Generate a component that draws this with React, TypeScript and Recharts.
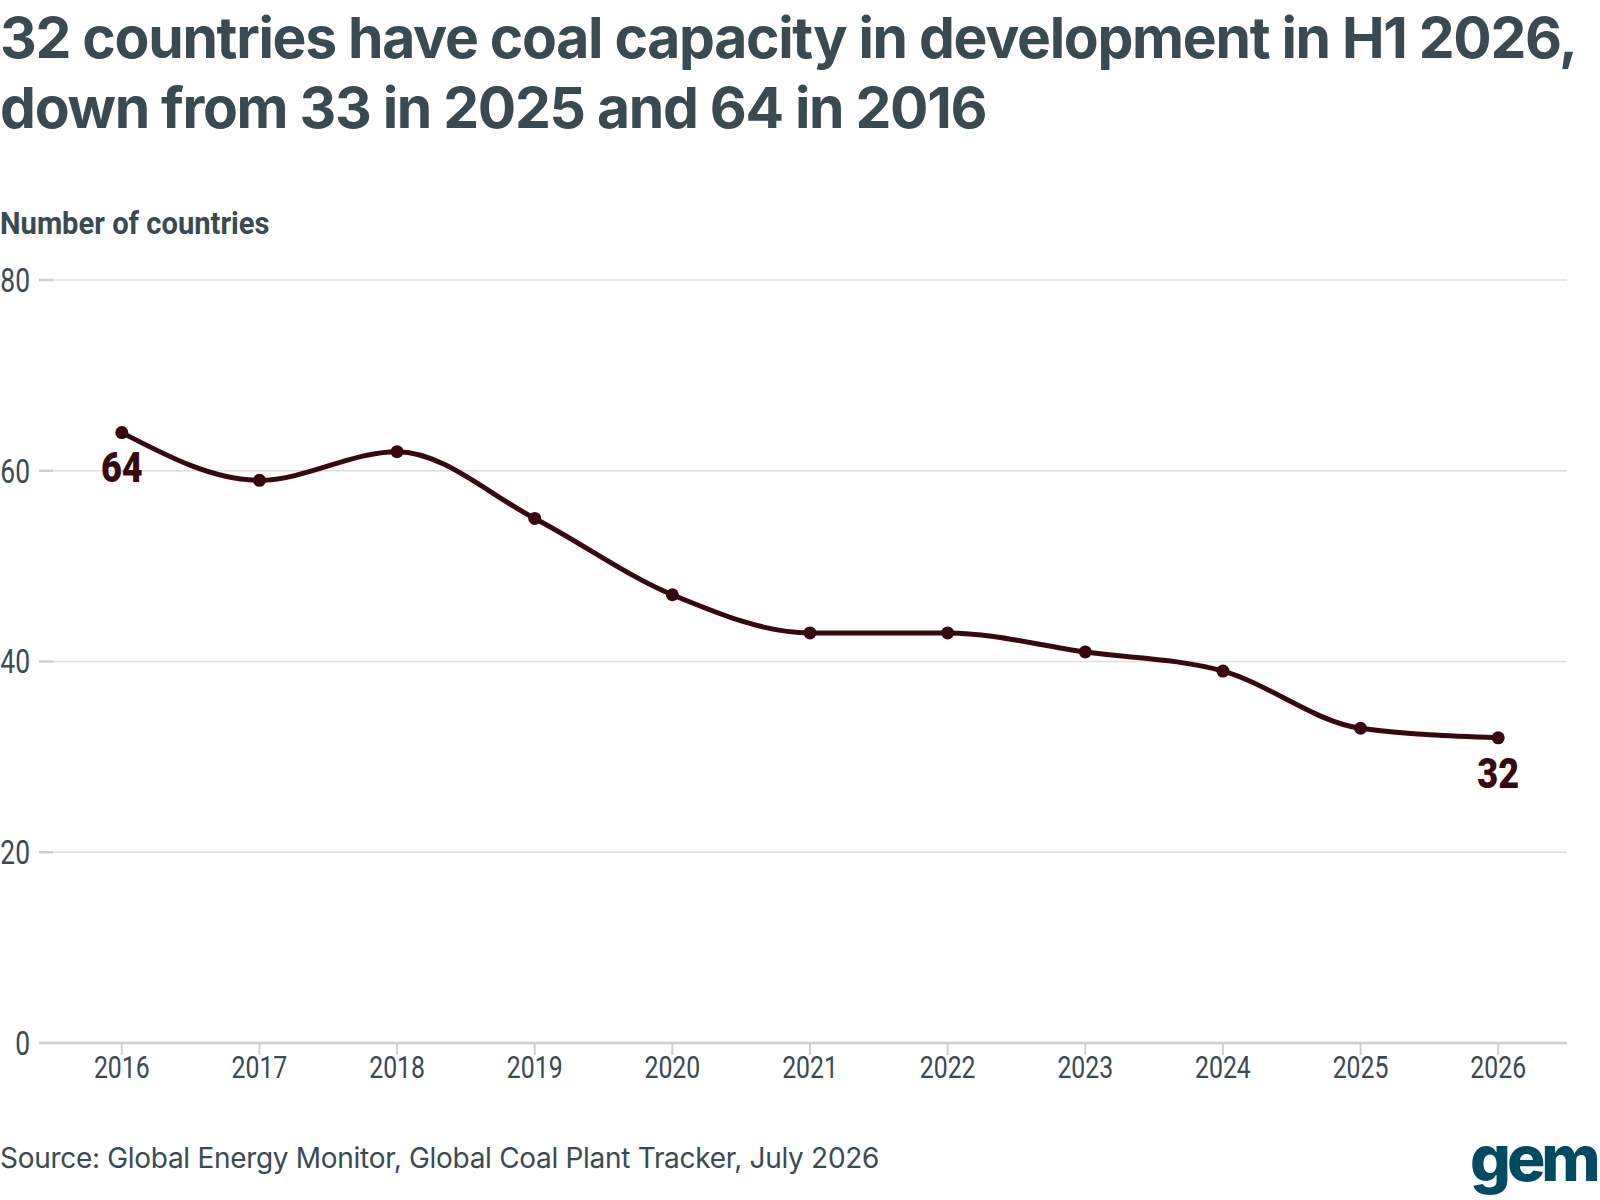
import { LineChart, Line, XAxis, YAxis, CartesianGrid, LabelList } from "recharts";

const years = ["2016", "2017", "2018", "2019", "2020", "2021", "2022", "2023", "2024", "2025", "2026"];
const countries = [64, 59, 62, 55, 47, 43, 43, 41, 39, 33, 32];
const yTicks = [0, 20, 40, 60, 80];

const data = years.map((year, i) => ({ year, countries: countries[i] }));

const INK = "#3a4a52";
const LINE = "#380811";
const NARROW = "Roboto, sans-serif";
const SQUEEZE = 0.8;

function XTick(props: any) {
  const { x, y, payload } = props;
  return (
    <text transform={`translate(${x},${y}) scale(${SQUEEZE},1)`} textAnchor="middle" dy="0.71em" fill={INK} fontFamily={NARROW} fontSize={31}>
      {payload.value}
    </text>
  );
}

function YTick(props: any) {
  const { x, y, payload } = props;
  return (
    <text transform={`translate(${x},${y}) scale(${SQUEEZE},1)`} textAnchor="end" dy="0.36em" fill={INK} fontFamily={NARROW} fontSize={33}>
      {payload.value}
    </text>
  );
}

// only the first and last points carry a value label
function EndLabel(props: any) {
  const { x, y, value, index } = props;
  if (index !== 0 && index !== years.length - 1) return null;
  return (
    <text transform={`translate(${x},${y + 20}) scale(0.86,1)`} dy="0.71em" textAnchor="middle" fill={LINE} fontFamily={NARROW} fontWeight={900} fontSize={42}>
      {value}
    </text>
  );
}

export default function App() {
  return (
    <div style={{ position: "absolute", left: 0, top: 0, width: 1600, height: 1200, background: "#fff", overflow: "hidden", color: INK }}>
      <div style={{ position: "absolute", left: 0, top: 3, width: 1600, fontFamily: "Inter, sans-serif", fontWeight: 700, fontSize: 57, lineHeight: "70px", letterSpacing: -1.3 }}>
        32 countries have coal capacity in development in H1 2026,
        <br />
        down from 33 in 2025 and 64 in 2016
      </div>
      <div style={{ position: "absolute", left: 0, top: 205, fontFamily: NARROW, fontWeight: 700, fontSize: 31, transform: "scaleX(0.94)", transformOrigin: "left", whiteSpace: "nowrap" }}>
        Number of countries
      </div>

      <div style={{ position: "absolute", left: 0, top: 0 }}>
        <LineChart width={1600} height={1200} data={data} margin={{ top: 280, right: 33, bottom: 127, left: 0 }}>
          <CartesianGrid vertical={false} stroke="#dedede" strokeWidth={1.5} />
          <XAxis
            dataKey="year"
            height={30}
            padding={{ left: 68.8, right: 68.8 }}
            axisLine={{ stroke: "#cfcfcf", strokeWidth: 2.5 }}
            tickLine={{ stroke: "#cfcfcf", strokeWidth: 2 }}
            tickSize={12}
            tickMargin={1}
            tick={<XTick />}
          />
          <YAxis
            width={53}
            domain={[0, 80]}
            ticks={yTicks}
            axisLine={false}
            tickLine={{ stroke: "#cfcfcf", strokeWidth: 2.5 }}
            tickSize={14}
            tickMargin={9}
            tick={<YTick />}
          />
          <Line
            type="monotone"
            dataKey="countries"
            stroke={LINE}
            strokeWidth={5}
            dot={{ r: 6.5, fill: LINE, stroke: "none" }}
            activeDot={false}
            isAnimationActive={false}
          >
            <LabelList dataKey="countries" content={EndLabel} />
          </Line>
        </LineChart>
      </div>

      <div style={{ position: "absolute", left: 0, top: 1141, fontFamily: "Inter, sans-serif", fontSize: 28, letterSpacing: -0.3, whiteSpace: "nowrap" }}>
        Source: Global Energy Monitor, Global Coal Plant Tracker, July 2026
      </div>
      <div style={{ position: "absolute", left: 1470, top: 1126, fontFamily: "Inter, sans-serif", fontWeight: 800, fontSize: 64, lineHeight: 1, letterSpacing: -4, color: "#014a63" }}>
        gem
      </div>
    </div>
  );
}
